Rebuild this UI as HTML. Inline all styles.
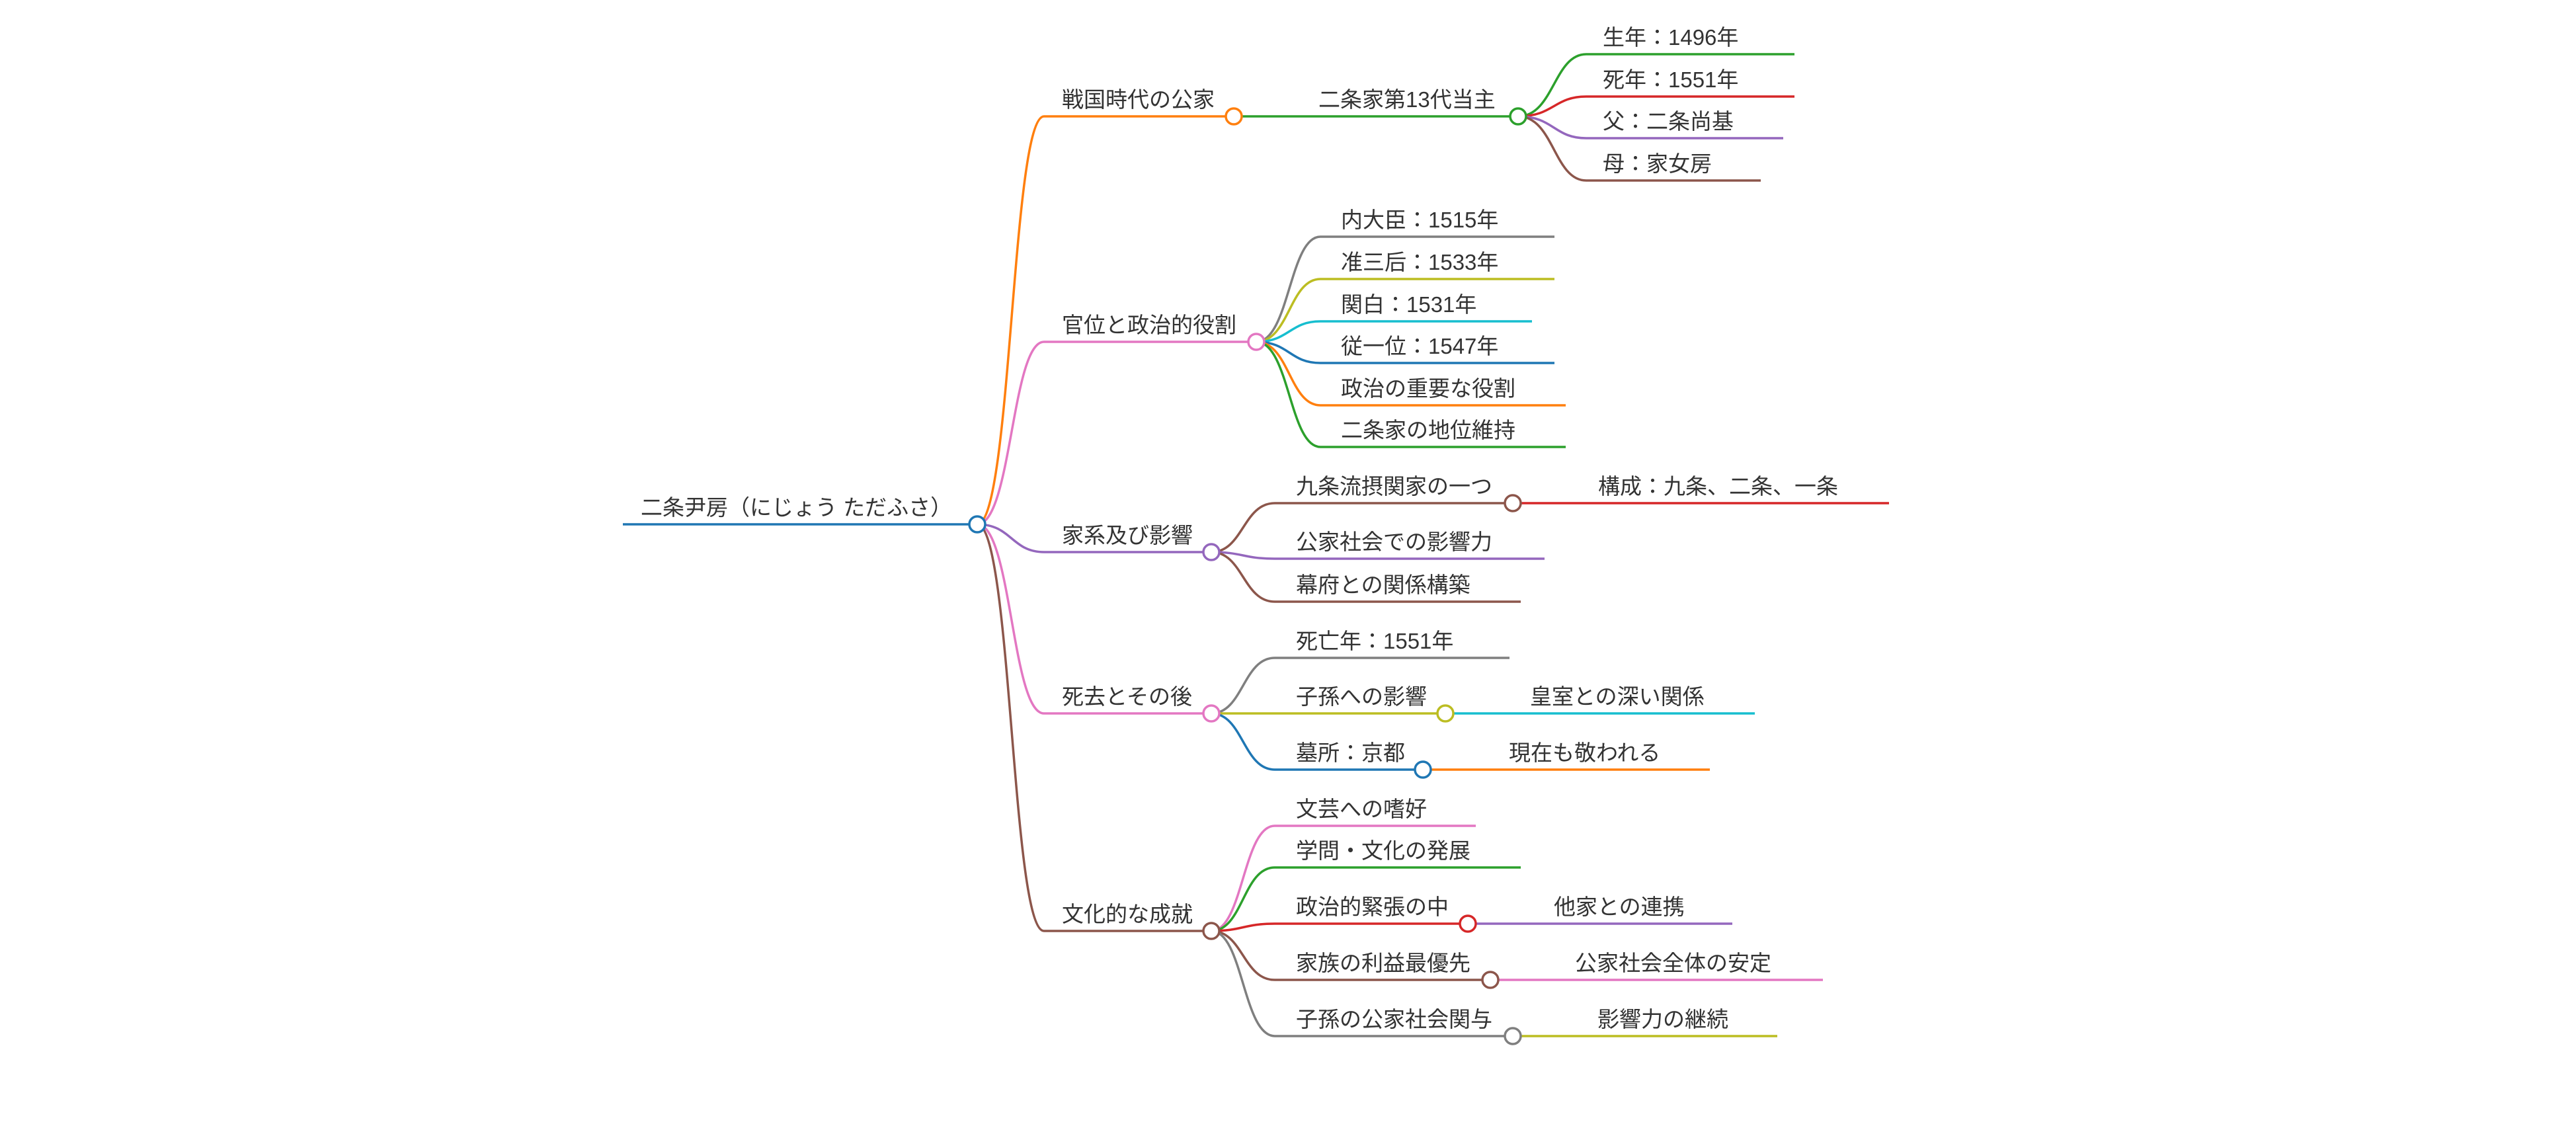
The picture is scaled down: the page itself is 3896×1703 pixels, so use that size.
<!DOCTYPE html>
<html><head><meta charset="utf-8"><style>
html,body{margin:0;padding:0;background:#fff;}
svg{display:block;}
text{font-family:"Liberation Sans","Noto Sans CJK JP",sans-serif;font-size:33px;fill:#333;}
path{fill:none;stroke-width:3.5;}
circle{fill:#fff;stroke-width:3.5;}
</style></head><body>
<svg width="3896" height="1703" viewBox="0 0 3896 1703" xmlns="http://www.w3.org/2000/svg">
<!-- root edges -->
<path stroke="#ff7f0e" d="M1478,793 C1530,793 1530,176 1579,176 L1854,176"/>
<path stroke="#e377c2" d="M1478,793 C1530,793 1530,517 1579,517 L1888,517"/>
<path stroke="#9467bd" d="M1478,793 C1530,793 1530,835 1579,835 L1820,835"/>
<path stroke="#e377c2" d="M1478,793 C1530,793 1530,1079 1579,1079 L1820,1079"/>
<path stroke="#8c564b" d="M1478,793 C1530,793 1530,1408 1579,1408 L1820,1408"/>
<path stroke="#1f77b4" stroke-width="5" d="M942,793 L1466,793"/>
<circle cx="1478" cy="793" r="12" stroke="#1f77b4"/>
<text x="969" y="779">二条尹房（にじょう ただふさ）</text>

<!-- 戦国時代の公家 -->
<path stroke="#2ca02c" d="M1878,176 L2284,176"/>
<path stroke="#2ca02c" d="M2296,176 C2350,176 2350,82 2399,82 L2714,82"/>
<path stroke="#d62728" d="M2296,176 C2350,176 2350,146 2399,146 L2714,146"/>
<path stroke="#9467bd" d="M2296,176 C2350,176 2350,209 2399,209 L2697,209"/>
<path stroke="#8c564b" d="M2296,176 C2350,176 2350,273 2399,273 L2663,273"/>
<circle cx="1866" cy="176" r="12" stroke="#ff7f0e"/>
<circle cx="2296" cy="176" r="12" stroke="#2ca02c"/>
<text x="1606" y="162">戦国時代の公家</text>
<text x="1994" y="162">二条家第13代当主</text>
<text x="2424" y="68">生年：1496年</text>
<text x="2424" y="132">死年：1551年</text>
<text x="2424" y="195">父：二条尚基</text>
<text x="2424" y="259">母：家女房</text>

<!-- 官位と政治的役割 -->
<path stroke="#7f7f7f" d="M1900,517 C1950,517 1950,358 1997,358 L2351,358"/>
<path stroke="#bcbd22" d="M1900,517 C1950,517 1950,422 1997,422 L2351,422"/>
<path stroke="#17becf" d="M1900,517 C1950,517 1950,486 1997,486 L2317,486"/>
<path stroke="#1f77b4" d="M1900,517 C1950,517 1950,549 1997,549 L2351,549"/>
<path stroke="#ff7f0e" d="M1900,517 C1950,517 1950,613 1997,613 L2368,613"/>
<path stroke="#2ca02c" d="M1900,517 C1950,517 1950,676 1997,676 L2368,676"/>
<circle cx="1900" cy="517" r="12" stroke="#e377c2"/>
<text x="1606" y="503">官位と政治的役割</text>
<text x="2028" y="344">内大臣：1515年</text>
<text x="2028" y="408">准三后：1533年</text>
<text x="2028" y="472">関白：1531年</text>
<text x="2028" y="535">従一位：1547年</text>
<text x="2028" y="599">政治の重要な役割</text>
<text x="2028" y="662">二条家の地位維持</text>

<!-- 家系及び影響 -->
<path stroke="#8c564b" d="M1832,835 C1880,835 1880,761 1928,761 L2276,761"/>
<path stroke="#d62728" d="M2300,761 L2857,761"/>
<path stroke="#9467bd" d="M1832,835 C1880,835 1880,845 1928,845 L2336,845"/>
<path stroke="#8c564b" d="M1832,835 C1880,835 1880,910 1928,910 L2300,910"/>
<circle cx="1832" cy="835" r="12" stroke="#9467bd"/>
<circle cx="2288" cy="761" r="12" stroke="#8c564b"/>
<text x="1606" y="821">家系及び影響</text>
<text x="1960" y="747">九条流摂関家の一つ</text>
<text x="2417" y="747">構成：九条、二条、一条</text>
<text x="1960" y="831">公家社会での影響力</text>
<text x="1960" y="896">幕府との関係構築</text>

<!-- 死去とその後 -->
<path stroke="#7f7f7f" d="M1832,1079 C1880,1079 1880,995 1928,995 L2283,995"/>
<path stroke="#bcbd22" d="M1844,1079 L2174,1079"/>
<path stroke="#17becf" d="M2198,1079 L2654,1079"/>
<path stroke="#1f77b4" d="M1832,1079 C1880,1079 1880,1164 1928,1164 L2140,1164"/>
<path stroke="#ff7f0e" d="M2164,1164 L2586,1164"/>
<circle cx="1832" cy="1079" r="12" stroke="#e377c2"/>
<circle cx="2186" cy="1079" r="12" stroke="#bcbd22"/>
<circle cx="2152" cy="1164" r="12" stroke="#1f77b4"/>
<text x="1606" y="1065">死去とその後</text>
<text x="1960" y="981">死亡年：1551年</text>
<text x="1960" y="1065">子孫への影響</text>
<text x="2314" y="1065">皇室との深い関係</text>
<text x="1960" y="1150">墓所：京都</text>
<text x="2282" y="1150">現在も敬われる</text>

<!-- 文化的な成就 -->
<path stroke="#e377c2" d="M1832,1408 C1880,1408 1880,1249 1928,1249 L2232,1249"/>
<path stroke="#2ca02c" d="M1832,1408 C1880,1408 1880,1312 1928,1312 L2300,1312"/>
<path stroke="#d62728" d="M1832,1408 C1880,1408 1880,1397 1928,1397 L2208,1397"/>
<path stroke="#9467bd" d="M2232,1397 L2620,1397"/>
<path stroke="#8c564b" d="M1832,1408 C1880,1408 1880,1482 1928,1482 L2242,1482"/>
<path stroke="#e377c2" d="M2266,1482 L2757,1482"/>
<path stroke="#7f7f7f" d="M1832,1408 C1880,1408 1880,1567 1928,1567 L2276,1567"/>
<path stroke="#bcbd22" d="M2300,1567 L2688,1567"/>
<circle cx="1832" cy="1408" r="12" stroke="#8c564b"/>
<circle cx="2220" cy="1397" r="12" stroke="#d62728"/>
<circle cx="2254" cy="1482" r="12" stroke="#8c564b"/>
<circle cx="2288" cy="1567" r="12" stroke="#7f7f7f"/>
<text x="1606" y="1394">文化的な成就</text>
<text x="1960" y="1235">文芸への嗜好</text>
<text x="1960" y="1298">学問・文化の発展</text>
<text x="1960" y="1383">政治的緊張の中</text>
<text x="2350" y="1383">他家との連携</text>
<text x="1960" y="1468">家族の利益最優先</text>
<text x="2382" y="1468">公家社会全体の安定</text>
<text x="1960" y="1553">子孫の公家社会関与</text>
<text x="2416" y="1553">影響力の継続</text>
</svg>
</body></html>
